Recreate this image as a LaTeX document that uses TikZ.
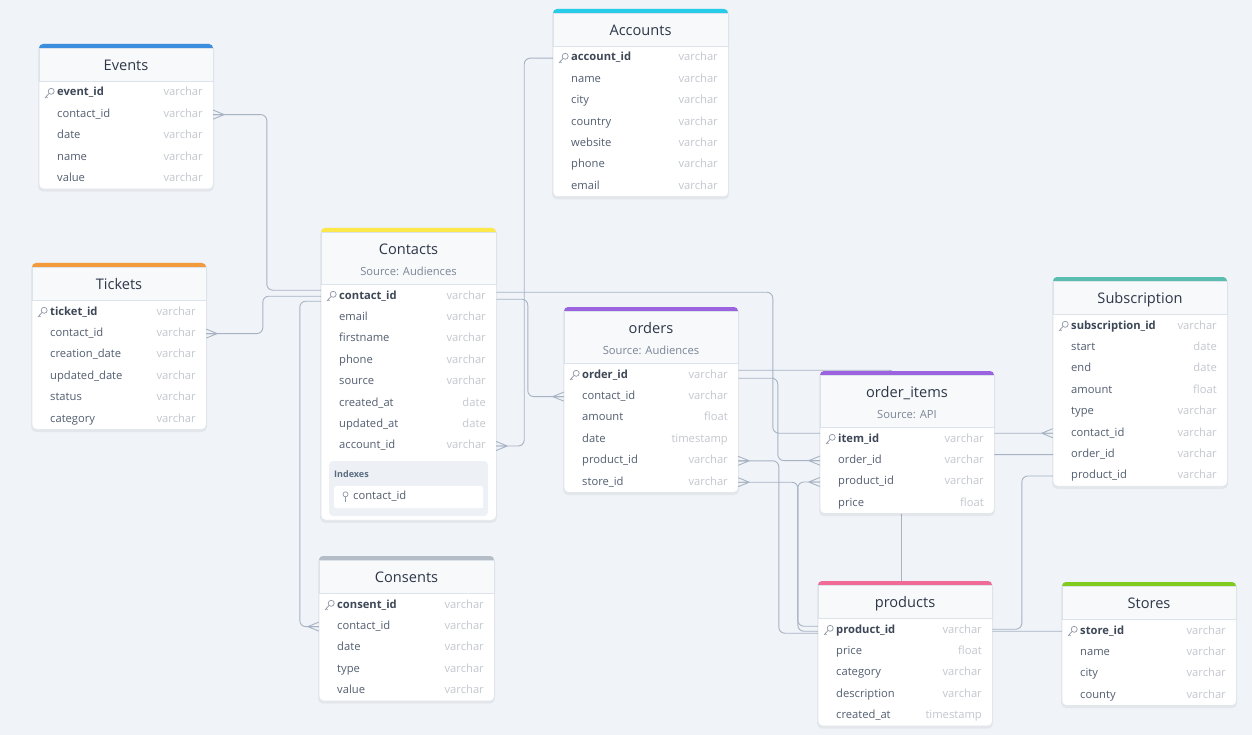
\documentclass[tikz,border=0pt]{standalone}
\usepackage{fontspec}
\setmainfont{Open Sans}
\usetikzlibrary{calc}
\definecolor{bgcol}{HTML}{F0F4F8}
\definecolor{conncol}{HTML}{A7B2C3}
\definecolor{bordercol}{HTML}{DDE3EA}
\definecolor{headfill}{HTML}{F7F9FB}
\definecolor{fieldcol}{HTML}{525E70}
\definecolor{keyfieldcol}{HTML}{3D4756}
\definecolor{typecol}{HTML}{C3C7CE}
\definecolor{titlecol}{HTML}{2D3748}
\definecolor{subcol}{HTML}{7A8595}
\definecolor{keycol}{HTML}{8E97A5}
\definecolor{idxfill}{HTML}{EDF1F5}
\definecolor{idxlabel}{HTML}{5B6B80}
\definecolor{cEvents}{HTML}{3B8EDE}
\definecolor{cAccounts}{HTML}{27CCE8}
\definecolor{cTickets}{HTML}{F39A3D}
\definecolor{cContacts}{HTML}{FCE84A}
\definecolor{cOrders}{HTML}{9B63E0}
\definecolor{cSubs}{HTML}{5BBCB0}
\definecolor{cConsents}{HTML}{B4BCC8}
\definecolor{cProducts}{HTML}{F06C97}
\definecolor{cStores}{HTML}{7FCB1E}
\pgfdeclarelayer{bglayer}
\pgfdeclarelayer{connlayer}
\pgfsetlayers{bglayer,connlayer,main}
\tikzset{
  conn/.style={draw=conncol, line width=0.9pt, rounded corners=6pt},
  foot/.style={draw=conncol, line width=0.9pt},
  rowbox/.style={inner sep=0pt, minimum height=21pt},
  fieldtxt/.style={inner sep=0pt, text=fieldcol, text height=8pt, text depth=2.4pt, font=\fontsize{11.2}{13}\selectfont},
  keytxt/.style={inner sep=0pt, text=keyfieldcol, text height=8pt, text depth=2.4pt, font=\fontsize{11.2}{13}\selectfont\bfseries},
  typetxt/.style={inner sep=0pt, text=typecol, text height=8pt, text depth=2.4pt, font=\fontsize{11.2}{13}\selectfont},
  titletxt/.style={inner sep=0pt, text=titlecol, text height=10.6pt, text depth=3.2pt, font=\fontsize{14.6}{17}\selectfont},
  subtxt/.style={inner sep=0pt, text=subcol, text height=8pt, text depth=2.4pt, font=\fontsize{11.2}{13}\selectfont},
  idxlbl/.style={inner sep=0pt, text=idxlabel, font=\fontsize{9}{11}\selectfont\bfseries},
  tablebox/.style={draw=bordercol, fill=white, rounded corners=4pt, inner sep=0pt, anchor=north west},
}
\newcommand{\keyicon}[2]{%
  \draw[keycol, line width=0.7pt] (#1+12.2,#2-1.9) circle (3pt);
  \draw[keycol, line width=0.7pt] (#1+10,#2+0.4) -- (#1+6,#2+4.6) (#1+7.2,#2+3.4) -- (#1+8.5,#2+4.7);
}
\newcommand{\erdtab}[9]{%
  \def\erdSub{#7}%
  \ifx\erdSub\empty\def\erdHH{37}\else\def\erdHH{56}\fi
  \pgfmathsetmacro{\erdHB}{#3+\erdHH}%
  \gdef\erdN{0}%
  \foreach \erdF/\erdT [count=\i] in {#8} {\xdef\erdN{\i}}%
  \pgfmathsetmacro{\erdTB}{\erdHB+\erdN*21.4+0.6+#9}%
  \pgfmathsetmacro{\erdXR}{#2+#4}%
  \pgfmathsetmacro{\erdXM}{#2+#4/2}%
  \pgfmathsetmacro{\erdTH}{\erdTB-#3}%
  \fill[black, opacity=0.05, rounded corners=5pt] (#2-1,#3+1) rectangle (\erdXR+1,\erdTB+3);
  \node[tablebox, minimum width=#4, minimum height=\erdTH] (#1) at (#2,#3) {};
  \fill[#5, rounded corners=4pt] (#2,#3) rectangle (\erdXR,#3+9);
  \filldraw[fill=headfill, draw=bordercol] (#2,#3+4) rectangle (\erdXR,\erdHB);
  \node[titletxt] (#1-title) at (\erdXM,#3+22.5) {#6};
  \ifx\erdSub\empty\else
    \node[subtxt] (#1-sub) at (\erdXM,#3+44.5) {#7};
  \fi
  \foreach \erdF/\erdT [count=\i] in {#8} {
    \pgfmathsetmacro{\erdY}{\erdHB+12.2+(\i-1)*21.4}
    \node[rowbox, minimum width=#4] (#1-\i) at (\erdXM,\erdY) {};
    \ifnum\i=1
      \node[keytxt, anchor=west] (#1-\i n) at (#2+18,\erdY) {\erdF};
      \keyicon{#2}{\erdY}
    \else
      \node[fieldtxt, anchor=west] (#1-\i n) at (#2+18,\erdY) {\erdF};
    \fi
    \node[typetxt, anchor=east] (#1-\i t) at (\erdXR-10,\erdY) {\erdT};
  }
}
\newcommand{\crowE}[1]{\draw[foot] ($(#1)+(11,0)$) -- ($(#1)+(0,-4.5)$) ($(#1)+(11,0)$) -- (#1) ($(#1)+(11,0)$) -- ($(#1)+(0,4.5)$);}
\newcommand{\crowW}[1]{\draw[foot] ($(#1)+(-11,0)$) -- ($(#1)+(0,-4.5)$) ($(#1)+(-11,0)$) -- (#1) ($(#1)+(-11,0)$) -- ($(#1)+(0,4.5)$);}
\begin{document}
\begin{tikzpicture}[x=1pt,y=-1pt]
\begin{pgfonlayer}{bglayer}
\fill[bgcol] (0,0) rectangle (1252,735);
\end{pgfonlayer}
\useasboundingbox (0,0) rectangle (1252,735);

\erdtab{ev}{39}{44}{174}{cEvents}{Events}{}{event\_id/varchar, contact\_id/varchar, date/varchar, name/varchar, value/varchar}{0}
\erdtab{ac}{553}{9}{175}{cAccounts}{Accounts}{}{account\_id/varchar, name/varchar, city/varchar, country/varchar, website/varchar, phone/varchar, email/varchar}{0}
\erdtab{tk}{32}{263}{174}{cTickets}{Tickets}{}{ticket\_id/varchar, contact\_id/varchar, creation\_date/varchar, updated\_date/varchar, status/varchar, category/varchar}{0}
\erdtab{ct}{321}{228}{175}{cContacts}{Contacts}{Source: Audiences}{contact\_id/varchar, email/varchar, firstname/varchar, phone/varchar, source/varchar, created\_at/date, updated\_at/date, account\_id/varchar}{64}
\erdtab{od}{564}{307}{174}{cOrders}{orders}{Source: Audiences}{order\_id/varchar, contact\_id/varchar, amount/float, date/timestamp, product\_id/varchar, store\_id/varchar}{0}
\erdtab{oi}{820}{371}{174}{cOrders}{order\_items}{Source: API}{item\_id/varchar, order\_id/varchar, product\_id/varchar, price/float}{0}
\erdtab{sb}{1053}{277}{174}{cSubs}{Subscription}{}{subscription\_id/varchar, start/date, end/date, amount/float, type/varchar, contact\_id/varchar, order\_id/varchar, product\_id/varchar}{0}
\erdtab{cs}{319}{556}{175}{cConsents}{Consents}{}{consent\_id/varchar, contact\_id/varchar, date/varchar, type/varchar, value/varchar}{0}
\erdtab{pd}{818}{581}{174}{cProducts}{products}{}{product\_id/varchar, price/float, category/varchar, description/varchar, created\_at/timestamp}{0}
\erdtab{st}{1062}{582}{174}{cStores}{Stores}{}{store\_id/varchar, name/varchar, city/varchar, county/varchar}{0}

% Contacts indexes
\filldraw[fill=idxfill, draw=none, rounded corners=4pt] (329,461) rectangle (488,516);
\node[idxlbl, anchor=west] (ct-idx) at (334,474) {Indexes};
\node[draw=none, fill=white, rounded corners=2pt, minimum width=149, minimum height=22, inner sep=0pt, anchor=north west] (ct-idxbox) at (334,486) {};
\node[fieldtxt, anchor=west] (ct-idx1) at (353,497) {contact\_id};
\draw[keycol, line width=0.7pt] (345.5,494.3) circle (2.5pt) (345.5,496.8) -- (345.5,501.8);

% connectors
\begin{pgfonlayer}{connlayer}
\draw[conn] (ev-2.east) -| ([xshift=-54pt,yshift=6pt]ct-1.west) -- ([yshift=6pt]ct-1.west);
\draw[conn] (tk-2.east) -| ([xshift=-58pt]ct-1.west) -- (ct-1.west);
\draw[conn] (cs-2.west) -| ([xshift=-21pt,yshift=-5pt]ct-1.west) -- ([yshift=-5pt]ct-1.west);
\draw[conn] ([yshift=4pt]ct-1.east) -| ([xshift=-280pt]sb-6.west) -- (sb-6.west);
\draw[conn] ([yshift=-3pt]ct-1.east) -| ([xshift=-36pt]od-2.west) -- (od-2.west);
\draw[conn] (ac-1.west) -| ([xshift=28pt]ct-8.east) -- (ct-8.east);
\draw[conn] ([yshift=-3pt]od-1.east) -| ([xshift=-42pt]oi-2.west) -- (oi-2.west);
\draw[conn] ([yshift=5pt]od-1.east) -| ([xshift=-158pt]sb-7.west) -- (sb-7.west);
\draw[conn] (od-5.east) -| ([xshift=-39pt,yshift=-3pt]pd-1.west) -- ([yshift=-3pt]pd-1.west);
\draw[conn] (oi-3.west) -| ([xshift=-20pt,yshift=4pt]pd-1.west) -- ([yshift=4pt]pd-1.west);
\draw[conn] (od-6.east) -| ([xshift=-264pt]st-1.west) -- (st-1.west);
\draw[conn] ([yshift=1pt]pd-1.east) -| ([xshift=-31pt]sb-8.west) -- (sb-8.west);
\draw[conn] ([xshift=-6pt]oi.south) -- ([xshift=-6pt]oi.south |- pd.north);
\end{pgfonlayer}

% crow's feet
\crowE{ev-2.east}
\crowE{tk-2.east}
\crowW{cs-2.west}
\crowW{sb-6.west}
\crowW{od-2.west}
\crowE{ct-8.east}
\crowW{oi-2.west}
\crowE{od-5.east}
\crowE{od-6.east}
\crowW{oi-3.west}
\end{tikzpicture}
\end{document}
